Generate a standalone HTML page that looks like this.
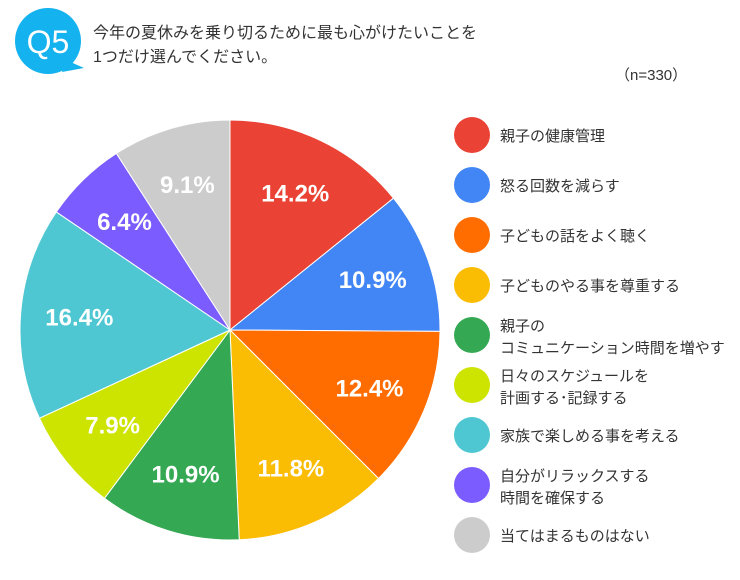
<!DOCTYPE html>
<html><head><meta charset="utf-8"><style>
body{margin:0;background:#fff;width:740px;height:580px;overflow:hidden;font-family:"Liberation Sans","Noto Sans CJK JP",sans-serif;}
</style></head><body>
<svg width="740" height="580" viewBox="0 0 740 580" style="position:absolute;left:0;top:0">
<g>
<circle cx="48" cy="41" r="33" fill="#14b2ee"/>
<path d="M66 60 L84 68 L62 72 Z" fill="#14b2ee"/>
<text x="48" y="53" text-anchor="middle" font-size="32" fill="#fff">Q5</text>
</g>
<text x="93" y="38" font-size="16" fill="#333">今年の夏休みを乗り切るために最も心がけたいことを</text>
<text x="93" y="62" font-size="16" fill="#333">1つだけ選んでください。</text>
<text x="615" y="80" font-size="15" fill="#333">（n=330）</text>
<g id="pie"></g>
<g id="legend"></g>
</svg>
<script>
const categories=[["親子の健康管理"],["怒る回数を減らす"],["子どもの話をよく聴く"],["子どものやる事を尊重する"],["親子の","コミュニケーション時間を増やす"],["日々のスケジュールを","計画する･記録する"],["家族で楽しめる事を考える"],["自分がリラックスする","時間を確保する"],["当てはまるものはない"]];
const values=[14.2,10.9,12.4,11.8,10.9,7.9,16.4,6.4,9.1];
const colors=["#ea4335","#4285f4","#ff6d01","#fbbc04","#34a853","#cde300","#4ec7d3","#7b5cff","#cccccc"];
const NS="http://www.w3.org/2000/svg";
const cx=230,cy=330,r=210;
const total=values.reduce((a,b)=>a+b,0);
const pie=document.getElementById('pie'),leg=document.getElementById('legend');
let a0=0;
values.forEach((v,i)=>{
  const a1=a0+v/total*2*Math.PI;
  const p=(a)=>[cx+r*Math.sin(a),cy-r*Math.cos(a)];
  const [x0,y0]=p(a0),[x1,y1]=p(a1);
  const path=document.createElementNS(NS,'path');
  path.setAttribute('d',`M${cx} ${cy} L${x0} ${y0} A${r} ${r} 0 ${a1-a0>Math.PI?1:0} 1 ${x1} ${y1} Z`);
  path.setAttribute('fill',colors[i]);
  path.setAttribute('stroke','#fff');path.setAttribute('stroke-width','1');
  
  
  pie.appendChild(path);
  const am=(a0+a1)/2,lr=r*0.72;
  const t=document.createElementNS(NS,'text');
  t.setAttribute('x',cx+lr*Math.sin(am));t.setAttribute('y',cy-lr*Math.cos(am)+8);
  t.setAttribute('text-anchor','middle');t.setAttribute('font-size','24');t.setAttribute('font-weight','bold');t.setAttribute('fill','#fff');
  t.textContent=v.toFixed(1)+'%';
  
  
  pie.appendChild(t);
  a0=a1;
  const ly=135+i*50;
  const c=document.createElementNS(NS,'circle');
  c.setAttribute('cx',472);c.setAttribute('cy',ly);c.setAttribute('r',18);c.setAttribute('fill',colors[i]);
  
  
  leg.appendChild(c);
  const lines=categories[i];
  lines.forEach((s,j)=>{
    const tt=document.createElementNS(NS,'text');
    tt.setAttribute('x',500);
    tt.setAttribute('y',ly+6+(lines.length>1?(j===0?-10:12):0));
    tt.setAttribute('font-size','15');tt.setAttribute('fill','#333');
    tt.textContent=s;
    
    
    leg.appendChild(tt);
  });
});
</script>
</body></html>
